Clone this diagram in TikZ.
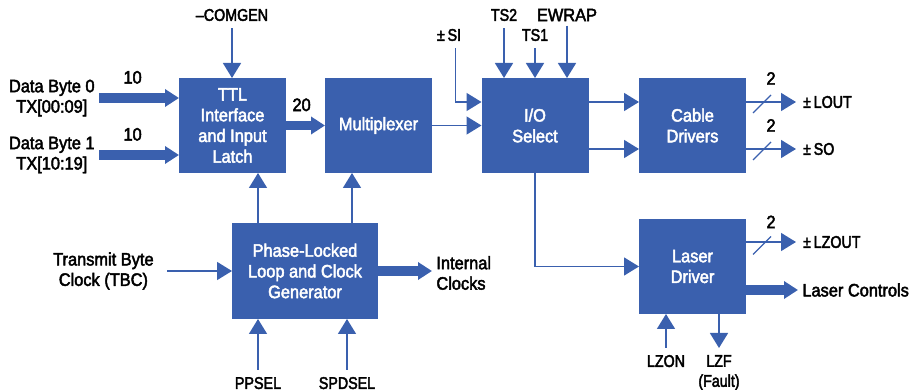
\documentclass[tikz,border=0pt]{standalone}
\usepackage{fontspec}
\setmainfont{Liberation Sans}[FakeStretch=0.91, FakeBold=2.5]
\newfontfamily\condfont{Liberation Sans}[FakeStretch=0.84, FakeBold=2.5]
\usetikzlibrary{positioning}
\usetikzlibrary{calc}
\usetikzlibrary{arrows.meta}

\definecolor{hpblue}{RGB}{58,96,174}

\tikzset{
    block/.style={fill=hpblue, text=white, align=center, minimum width=53.5pt, minimum height=47.5pt, inner sep=0pt, outer sep=0pt, font=\fontsize{9}{10.35}\selectfont},
    sig/.style={draw=hpblue, line width=0.75pt, -{Triangle[width=9pt,length=7.5pt]}},
    bus/.style={draw=hpblue, line width=4.6pt, -{Triangle[width=8.5pt,length=7pt]}},
    slash/.style={draw=hpblue, line width=0.6pt},
    biglbl/.style={align=center, inner sep=2pt, font=\fontsize{9}{10.2}\selectfont},
    smalllbl/.style={font=\condfont\fontsize{8.5}{10}\selectfont},
    numlbl/.style={font=\fontsize{9}{10}\selectfont},
}

\begin{document}
\begin{tikzpicture}[x=0.5pt, y=-0.5pt]
    \useasboundingbox (0,0) rectangle (912,390);
    %TTL
    \node[block] (ttl) at (232.5,125.5) {TTL\\Interface\\and Input\\Latch};
    %Multiplexer
    \node[block] (mux) at (378.5,125.5) {Multiplexer};
    %I/O Select
    \node[block] (iosel) at (535,125.5) {I/O\\Select};
    %Cable Drivers
    \node[block] (cable) at (692.5,125.5) {Cable\\Drivers};
    %PLL
    \node[block, minimum width=73pt, minimum height=48pt] (pll) at (305,271) {Phase-Locked\\Loop and Clock\\Generator};
    %Laser Driver
    \node[block] (laser) at (692.5,266.5) {Laser\\Driver};

    %inputs
    \node[biglbl, anchor=east] (db0) at (99,98) {Data Byte 0\\TX[00:09]};
    \node[biglbl, anchor=east] (db1) at (99,155) {Data Byte 1\\TX[10:19]};
    \node[biglbl, anchor=east] (tbc) at (158,271) {Transmit Byte\\Clock (TBC)};
    \node[smalllbl] (comgen) at (232,15) {–COMGEN};
    \node[smalllbl] (si) at (449,35) {±\,SI};
    \node[smalllbl] (ts2) at (504,15) {TS2};
    \node[smalllbl] (ts1) at (535,35) {TS1};
    \node[biglbl] (ewrap) at (567,15) {EWRAP};
    \node[smalllbl, anchor=north] (ppsel) at (258,370) {PPSEL};
    \node[smalllbl, anchor=north] (spdsel) at (347,370) {SPDSEL};
    \node[smalllbl, anchor=north] (lzon) at (666,348) {LZON};
    %outputs
    \node[biglbl, anchor=west, align=left] (intclk) at (432,273) {Internal\\Clocks};
    \node[smalllbl, anchor=west] (lout) at (796,102) {±\,LOUT};
    \node[smalllbl, anchor=west] (so) at (796,149) {±\,SO};
    \node[smalllbl, anchor=west] (lzout) at (796,242) {±\,LZOUT};
    \node[biglbl, anchor=west] (lasctl) at (798,290) {Laser Controls};
    \node[smalllbl, anchor=north, align=center] (lzf) at (719,348) {LZF\\(Fault)};

    %COMGEN - TTL
    \draw[sig] (comgen.south) -- (comgen.south |- ttl.north);
    %Data Bytes - TTL
    \draw[bus] (db0.east) -- (db0.east -| ttl.west) node[pos=0.42, above=1.5pt, numlbl] {10};
    \draw[bus] (db1.east) -- (db1.east -| ttl.west) node[pos=0.42, above=1.5pt, numlbl] {10};
    %TTL - MUX
    \draw[bus] (ttl.east) -- (mux.west) node[pos=0.4, above=1.5pt, numlbl] {20};
    %MUX - I/O
    \draw[sig] (mux.east) -- (iosel.west);
    %SI - I/O
    \draw[sig] ([xshift=3.25pt]si.south) |- ([yshift=11.75pt]iosel.west);
    %TS2, TS1, EWRAP - I/O
    \draw[sig] (ts2.south) -- (ts2.south |- iosel.north);
    \draw[sig] (ts1.south) -- (ts1.south |- iosel.north);
    \draw[sig] (ewrap.south) -- (ewrap.south |- iosel.north);
    %I/O - Cable Drivers
    \draw[sig] ([yshift=11.75pt]iosel.east) -- ([yshift=11.75pt]cable.west);
    \draw[sig] ([yshift=-11.75pt]iosel.east) -- ([yshift=-11.75pt]cable.west);
    %Cable Drivers - LOUT, SO
    \draw[sig] ([yshift=11.75pt]cable.east) -- (lout.west);
    \draw[slash] ([shift={(7,-12.5)}]cable.east) -- ++(18,-18) node[above=1.5pt, numlbl] {2};
    \draw[sig] ([yshift=-11.75pt]cable.east) -- (so.west);
    \draw[slash] ([shift={(7,34.5)}]cable.east) -- ++(18,-18) node[above=1.5pt, numlbl] {2};
    %I/O - Laser Driver
    \draw[sig] (iosel.south) |- (laser.west);
    %Laser Driver - LZOUT
    \draw[sig] ([yshift=12.25pt]laser.east) -- (lzout.west);
    \draw[slash] ([shift={(7,-12)}]laser.east) -- ++(18,-18) node[above=0.5pt, numlbl] {2};
    %Laser Driver - Laser Controls
    \draw[bus] ([yshift=-11.75pt]laser.east) -- (lasctl.west);
    %LZON, LZF
    \draw[sig] (lzon.north) -- (lzon.north |- laser.south);
    \draw[sig] (lzf.north |- laser.south) -- (lzf.north);
    %TBC - PLL
    \draw[sig] ([xshift=4.5pt]tbc.east) -- (pll.west);
    %PLL - Internal Clocks
    \draw[bus] (pll.east) -- (pll.east -| intclk.west);
    %PLL - TTL, MUX
    \draw[sig] ($(pll.north)+(-47,0)$) -- ({$(pll.north)+(-47,0)$} |- ttl.south);
    \draw[sig] ($(pll.north)+(47,0)$) -- ({$(pll.north)+(47,0)$} |- mux.south);
    %PPSEL, SPDSEL - PLL
    \draw[sig] (ppsel.north) -- (ppsel.north |- pll.south);
    \draw[sig] (spdsel.north) -- (spdsel.north |- pll.south);
\end{tikzpicture}
\end{document}
